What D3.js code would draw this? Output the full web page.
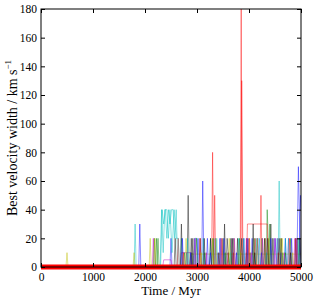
<!DOCTYPE html>
<html lang="en">
<head>
<meta charset="UTF-8">
<title>velocity width</title>
<style>
  body { margin: 0; background: #fff; }
  svg { display: block; }
  text { font-family: "Liberation Serif", "DejaVu Serif", serif; }
</style>
</head>
<body>
<svg id="chart" width="317" height="300"></svg>
<script src="https://cdnjs.cloudflare.com/ajax/libs/d3/7.8.5/d3.min.js"></script>
<script>

// ticks
let xTicks = [0, 1000, 2000, 3000, 4000, 5000];
let yTicks = [0, 20, 40, 60, 80, 100, 120, 140, 160, 180];

// one line per tracked object: [time in Myr, best width in km/s]
let blue1 = [[0,0],[1880,0],[1900,30],[1920,0],[2480,0],[2500,20],[2520,0],[2940,0],[2960,20],[2980,0],[3090,0],[3110,60],[3130,10],[3150,0],[3420,0],[3440,20],[3460,0],[3680,0],[3700,20],[3720,10],[3740,0],[4040,0],[4060,20],[4080,0],[4480,0],[4500,20],[4520,10],[4540,0],[4920,0],[4950,70],[4980,20],[5000,0]];
let green1 = [[0,0],[2160,0],[2180,20],[2200,0],[2220,20],[2240,0],[2880,0],[2900,10],[2920,0],[3480,0],[3500,20],[3520,0],[4080,0],[4100,20],[4120,0],[4330,0],[4350,40],[4370,20],[4390,0],[4780,0],[4800,20],[4820,0],[5000,0]];
let red1 = [[0,0],[3280,0],[3300,80],[3320,0],[3340,50],[3360,0],[3830,0],[3850,180],[3870,0],[4210,0],[4230,50],[4250,0],[5000,0]];
let cyan1 = [[0,0],[1790,0],[1810,30],[1830,0],[2300,0],[2330,40],[2360,30],[2390,40],[2420,20],[2450,40],[2480,30],[2510,40],[2540,40],[2570,20],[2600,40],[2630,0],[2680,0],[2700,20],[2720,0],[3240,0],[3260,20],[3280,0],[4560,0],[4580,60],[4600,0],[5000,0]];
let magenta1 = [[0,0],[2140,0],[2160,20],[2180,0],[2680,0],[2700,10],[2880,10],[2900,0],[3640,0],[3660,20],[3680,0],[4140,0],[4160,20],[4180,0],[4440,0],[4460,20],[4480,0],[4740,0],[4760,20],[4780,0],[5000,0]];
let yellow1 = [[0,0],[480,0],[500,10],[520,0],[1770,0],[1790,10],[1810,0],[2080,0],[2100,20],[2120,0],[2860,0],[2880,9],[5000,9]];
let black1 = [[0,0],[2560,0],[2580,20],[2600,0],[2680,0],[2700,30],[2720,0],[2810,0],[2830,50],[2850,0],[3040,0],[3060,20],[3080,0],[3510,0],[3530,30],[3550,0],[3940,0],[3960,20],[3980,0],[4400,0],[4420,30],[4440,0],[4880,0],[4900,20],[4920,0],[5000,0]];
let blue2 = [[0,0],[2780,0],[2800,10],[2820,0],[3180,0],[3200,20],[3220,0],[3330,0],[3350,20],[3370,0],[3580,0],[3600,10],[3620,0],[3880,0],[3900,20],[3920,0],[4130,0],[4150,10],[4170,20],[4190,0],[4680,0],[4700,20],[4720,0],[4960,0],[4990,50],[5000,40]];
let green2 = [[0,0],[2230,0],[2250,20],[2270,0],[3130,0],[3150,10],[3170,0],[3630,0],[3650,20],[3670,0],[3930,0],[3950,10],[3970,0],[4230,0],[4250,20],[4270,0],[4380,0],[4400,30],[4420,0],[4630,0],[4650,10],[4670,0],[5000,0]];
let red2 = [[0,0],[2620,0],[2640,20],[2660,0],[3580,0],[3600,10],[3620,0],[3840,0],[3860,130],[3880,20],[3900,0],[3950,0],[3970,30],[4350,30],[4370,0],[4760,0],[4780,20],[4800,0],[5000,0]];
let cyan2 = [[0,0],[2290,0],[2320,40],[2350,10],[2380,40],[2420,40],[2450,20],[2480,40],[2520,10],[2560,40],[2600,20],[2640,20],[2660,0],[2940,0],[2960,20],[3000,20],[3020,0],[3440,0],[3460,20],[3480,0],[3780,0],[3800,20],[3820,0],[4180,0],[4200,20],[4220,0],[4680,0],[4700,20],[4720,0],[4880,0],[4900,20],[4920,0],[5000,0]];
let magenta2 = [[0,0],[2340,0],[2360,5],[2500,5],[2520,0],[3380,0],[3400,10],[3420,0],[3930,0],[3950,20],[3970,0],[4300,0],[4320,20],[4340,0],[4530,0],[4550,20],[4570,0],[4860,0],[4880,20],[4900,0],[5000,0]];
let yellow2 = [[0,0],[2170,0],[2190,20],[2210,0],[3280,0],[3300,20],[3320,0],[3690,0],[3710,20],[3730,0],[3990,0],[4010,20],[4030,0],[4290,0],[4310,20],[4330,0],[4590,0],[4610,20],[4630,0],[5000,0]];
let black2 = [[0,0],[2870,0],[2890,20],[2910,0],[3240,0],[3260,20],[3280,0],[3560,0],[3580,20],[3600,10],[3620,0],[3760,0],[3780,20],[3800,0],[4060,0],[4080,30],[4100,0],[4280,0],[4300,20],[4320,0],[4600,0],[4620,20],[4640,0],[5000,0]];
let blue3 = [[0,0],[2700,0],[2720,20],[2740,0],[2860,0],[2880,10],[2900,0],[3000,0],[3020,20],[3040,0],[3240,0],[3260,10],[3280,0],[3500,0],[3520,20],[3540,0],[3740,0],[3760,10],[3780,0],[3960,0],[3980,20],[4000,0],[4220,0],[4240,10],[4260,0],[4400,0],[4420,20],[4440,0],[4600,0],[4620,10],[4640,0],[4800,0],[4820,20],[4840,0],[5000,0]];
let green3 = [[0,0],[2740,0],[2760,10],[2780,0],[2970,0],[2990,20],[3010,0],[3290,0],[3310,20],[3330,0],[3520,0],[3540,10],[3560,0],[3800,0],[3820,20],[3840,0],[4000,0],[4020,10],[4040,0],[4440,0],[4460,20],[4480,0],[4680,0],[4700,10],[4720,0],[4920,0],[4940,20],[4960,0],[5000,0]];
let red3 = [[0,0],[2720,0],[2740,10],[2760,0],[3040,0],[3060,20],[3080,0],[3460,0],[3480,20],[3500,0],[3680,0],[3700,10],[3720,0],[3980,0],[4000,20],[4020,0],[4100,0],[4120,20],[4140,0],[4540,0],[4560,10],[4580,0],[4880,0],[4900,20],[4920,0],[5000,0]];
let cyan3 = [[0,0],[2800,0],[2820,20],[2840,0],[3100,0],[3120,20],[3140,0],[3360,0],[3380,20],[3400,0],[3620,0],[3640,10],[3660,0],[3880,0],[3900,20],[3920,0],[4120,0],[4140,20],[4160,0],[4320,0],[4340,10],[4360,0],[4520,0],[4540,20],[4560,0],[4740,0],[4760,20],[4780,0],[4940,0],[4960,20],[4980,0],[5000,0]];
let magenta3 = [[0,0],[2940,0],[2960,20],[2980,0],[3160,0],[3180,10],[3200,0],[3440,0],[3460,20],[3480,0],[3700,0],[3720,20],[3740,0],[4020,0],[4040,10],[4060,0],[4240,0],[4260,20],[4280,0],[4480,0],[4500,20],[4520,0],[4660,0],[4680,10],[4700,0],[4900,0],[4920,20],[4940,0],[5000,0]];
let yellow3 = [[0,0],[2770,0],[2790,20],[2810,0],[3060,0],[3080,10],[3100,0],[3340,0],[3360,20],[3380,0],[3600,0],[3620,20],[3640,0],[3820,0],[3840,10],[3860,0],[4140,0],[4160,20],[4180,0],[4360,0],[4380,20],[4400,0],[4620,0],[4640,20],[4660,0],[4820,0],[4840,10],[4860,0],[5000,0]];
let black3 = [[0,0],[2900,0],[2920,20],[2940,0],[3120,0],[3140,20],[3160,0],[3400,0],[3420,10],[3440,0],[3660,0],[3680,20],[3700,0],[3840,0],[3860,20],[3880,0],[4090,0],[4110,10],[4130,0],[4340,0],[4360,20],[4380,0],[4560,0],[4580,20],[4600,0],[4780,0],[4800,10],[4820,0],[4960,0],[4980,20],[5000,0]];

// baseline drawn thick in red (objects with no width)
let baseline = [[0,0],[5000,0]];

let lines = [
  {d: blue1, c: "#0000ff"}, {d: green1, c: "#008000"}, {d: red1, c: "#ff0000"},
  {d: cyan1, c: "#00bfbf"}, {d: magenta1, c: "#bf00bf"}, {d: yellow1, c: "#bfbf00"},
  {d: black1, c: "#000000"},
  {d: blue2, c: "#0000ff"}, {d: green2, c: "#008000"}, {d: red2, c: "#ff0000"},
  {d: cyan2, c: "#00bfbf"}, {d: magenta2, c: "#bf00bf"}, {d: yellow2, c: "#bfbf00"},
  {d: black2, c: "#000000"},
  {d: blue3, c: "#0000ff"}, {d: green3, c: "#008000"}, {d: red3, c: "#ff0000"},
  {d: cyan3, c: "#00bfbf"}, {d: magenta3, c: "#bf00bf"}, {d: yellow3, c: "#bfbf00"},
  {d: black3, c: "#000000"}
];

let margin = {top: 9, right: 16, bottom: 33, left: 41};
let width = 317, height = 300;

let svg = d3.select("#chart");

let x = d3.scaleLinear().domain([0, 5000]).range([margin.left, width - margin.right]);
let y = d3.scaleLinear().domain([0, 180]).range([height - margin.bottom, margin.top]);

svg.append("clipPath").attr("id", "clip")
  .append("rect")
    .attr("x", margin.left).attr("y", margin.top)
    .attr("width", x(5000) - x(0)).attr("height", y(0) - y(180));

let line = d3.line()
  .x(d => x(d[0]))
  .y(d => y(d[1]));

let plot = svg.append("g").attr("clip-path", "url(#clip)");

plot.selectAll("path.obj")
  .data(lines)
  .enter()
  .append("path")
    .attr("class", "obj")
    .attr("fill", "none")
    .attr("stroke", d => d.c)
    .attr("stroke-opacity", 0.45)
    .attr("stroke-width", 1)
    .attr("d", d => line(d.d));

svg.append("path")
  .attr("fill", "none")
  .attr("stroke", "#ff0000")
  .attr("stroke-width", 5)
  .attr("d", line(baseline));

// axes, ticks pointing inward on all four sides
let axisFont = g => g.selectAll("text")
  .style("font-family", "'Liberation Serif', serif")
  .style("font-size", "11.5px")
  .attr("fill", "#000");

svg.append("g")
  .attr("transform", `translate(0,${y(0)})`)
  .call(d3.axisBottom(x).tickValues(xTicks).tickSize(-4).tickPadding(6).tickFormat(d3.format("d")))
  .call(axisFont)
  .call(g => g.select(".domain").remove());

svg.append("g")
  .attr("transform", `translate(${x(0)},0)`)
  .call(d3.axisLeft(y).tickValues(yTicks).tickSize(-4).tickPadding(4))
  .call(axisFont)
  .call(g => g.select(".domain").remove());

svg.append("g")
  .attr("transform", `translate(0,${y(180)})`)
  .call(d3.axisTop(x).tickValues(xTicks).tickSize(-4).tickFormat(""))
  .call(g => g.select(".domain").remove());

svg.append("g")
  .attr("transform", `translate(${x(5000)},0)`)
  .call(d3.axisRight(y).tickValues(yTicks).tickSize(-4).tickFormat(""))
  .call(g => g.select(".domain").remove());

svg.append("rect")
  .attr("x", x(0)).attr("y", y(180))
  .attr("width", x(5000) - x(0)).attr("height", y(0) - y(180))
  .attr("fill", "none")
  .attr("stroke", "#000")
  .attr("stroke-width", 1);

svg.append("text")
  .attr("x", (x(0) + x(5000)) / 2)
  .attr("y", 295)
  .attr("text-anchor", "middle")
  .style("font-size", "13px")
  .text("Time / Myr");

let ylab = svg.append("text")
  .attr("transform", `translate(17,${(y(0) + y(180)) / 2}) rotate(-90)`)
  .attr("text-anchor", "middle")
  .style("font-size", "14px");
ylab.append("tspan").text("Best velocity width / km s");
ylab.append("tspan").attr("dy", -6).style("font-size", "9px").text("\u22121");

</script>
</body>
</html>
